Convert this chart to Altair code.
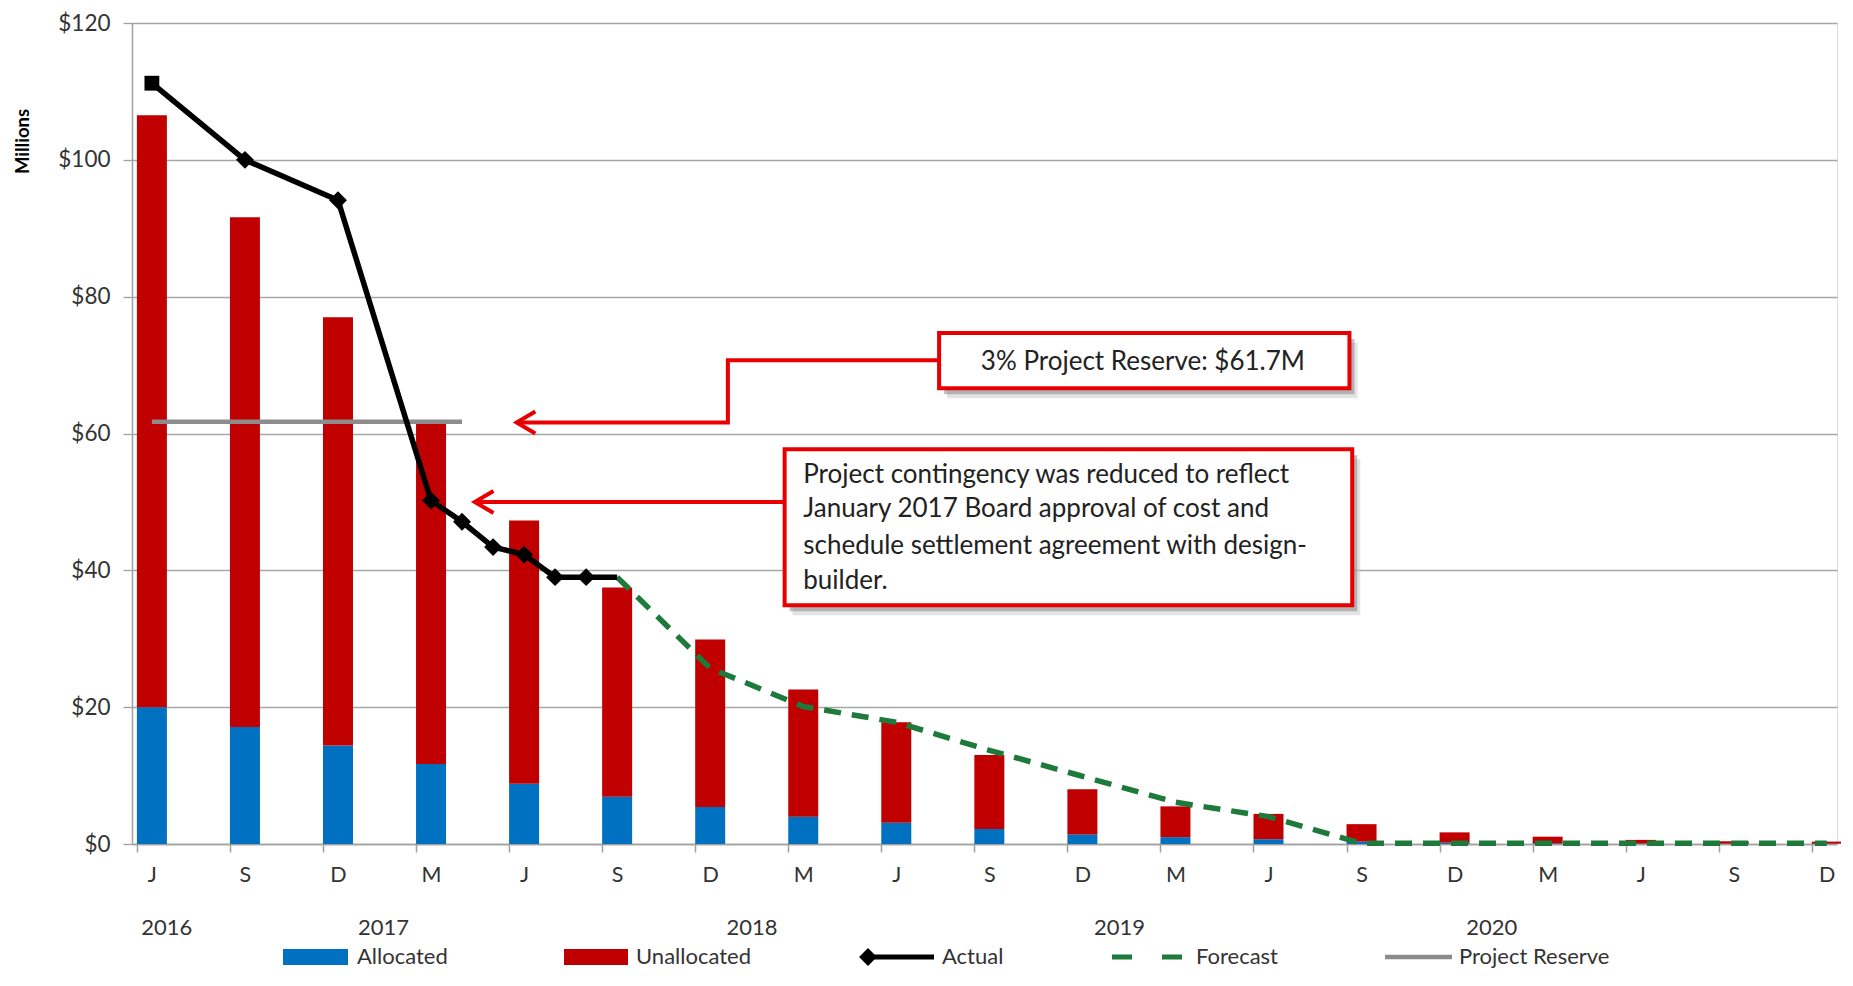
import altair as alt
import pandas as pd

# ---------------- data ----------------
quarter_labels = ["J", "S", "D", "M", "J", "S", "D", "M", "J", "S",
                  "D", "M", "J", "S", "D", "M", "J", "S", "D"]
quarter_index = list(range(len(quarter_labels)))

allocated = [20.0, 17.1, 14.4, 11.7, 8.8, 6.9, 5.4, 4.0, 3.1, 2.2,
             1.4, 1.0, 0.7, 0.35, 0.2, 0.1, 0.08, 0.05, 0.05]
unallocated = [86.5, 74.5, 62.6, 50.0, 38.5, 30.6, 24.5, 18.6, 14.7, 10.8,
               6.6, 4.5, 3.7, 2.55, 1.5, 0.97, 0.52, 0.35, 0.3]

actual_q = [0, 1, 2, 3, 3.333, 3.667, 4, 4.333, 4.667, 5]
actual_v = [111.2, 100.0, 94.1, 50.2, 47.1, 43.4, 42.3, 39.0, 39.0, 39.0]

forecast_q = [5, 6, 7, 8, 9, 10, 11, 12, 13, 14, 15, 16, 17, 18]
forecast_v = [39.0, 25.7, 20.1, 17.8, 13.7, 9.9, 6.1, 4.0, 0.1, 0.1, 0.1, 0.1, 0.1, 0.1]

reserve_q = [0, 3.333]
reserve_v = [61.7, 61.7]

year_labels = ["2016", "2017", "2018", "2019", "2020"]
year_q = [0.16, 2.49, 6.45, 10.4, 14.4]

y_ticks = [0, 20, 40, 60, 80, 100, 120]

# annotation geometry in data units (quarter index, $ millions)
box1 = {"x": 8.46, "x2": 12.87, "y": 66.6, "y2": 74.7}
box1_text = "3% Project Reserve: $61.7M"
box1_text_pos = (10.65, 70.5)
conn1_q = [8.46, 6.19, 6.19, 3.92]
conn1_v = [70.7, 70.7, 61.6, 61.6]

box2 = {"x": 6.8, "x2": 12.9, "y": 34.9, "y2": 57.7}
box2_lines = ["Project contingency was  reduced to reflect",
              "January 2017 Board approval of cost and",
              "schedule settlement agreement with design-",
              "builder."]
box2_text_q = 7.0
box2_text_v = [54.0, 48.9, 43.6, 38.5]
conn2_q = [6.8, 3.47]
conn2_v = [50.0, 50.0]

legend_labels = ["Allocated", "Unallocated", "Actual", "Forecast", "Project Reserve"]

# ---------------- styling ----------------
BLUE = "#0070C0"
RED = "#C00000"
CALLOUT = "#E80000"
GREEN = "#1D7A3B"
GRAY = "#8C8C8C"
TEXT = "#333333"
FONT = "Lato"

W, H = 1705, 821
xscale = alt.Scale(domain=[-0.160, 18.056], nice=False, zero=False)
yscale = alt.Scale(domain=[0, 120], nice=False)

label_expr = "[" + ",".join("'%s'" % s for s in quarter_labels) + "][datum.value]"

xaxis = alt.Axis(values=quarter_index, labelExpr=label_expr, title=None, grid=False,
                 tickSize=8, tickOffset=-15, labelOffset=15, labelPadding=12,
                 labelFontSize=21.5, labelColor=TEXT, labelFont=FONT,
                 domainColor="#a0a0a0", domainWidth=1.5, tickColor="#a0a0a0", tickWidth=1.5)
yaxis = alt.Axis(values=y_ticks, labelExpr="'$' + datum.value", title="Millions",
                 grid=True, gridColor="#a6a6a6", gridWidth=1.3,
                 tickSize=9, tickColor="#a0a0a0", tickWidth=1.3,
                 domainColor="#a0a0a0", domainWidth=1.5,
                 labelFontSize=22.5, labelColor=TEXT, labelFont=FONT, labelPadding=13,
                 titleFontSize=18.5, titleFontWeight="bold", titleColor="#000000", titleFont=FONT,
                 titleX=-110, titleY=118, titleAngle=-90, titleBaseline="middle", titleAlign="center")

# ---------------- bars ----------------
n = len(quarter_index)
df_bars = pd.DataFrame({
    "q": quarter_index * 2,
    "series": ["Allocated"] * n + ["Unallocated"] * n,
    "value": allocated + unallocated,
    "ord": [0] * n + [1] * n,
})
bars = alt.Chart(df_bars).mark_bar(size=30).encode(
    x=alt.X("q:Q", scale=xscale, axis=xaxis),
    y=alt.Y("value:Q", stack="zero", scale=yscale, axis=yaxis),
    color=alt.Color("series:N", scale=alt.Scale(domain=["Allocated", "Unallocated"], range=[BLUE, RED]), legend=None),
    order=alt.Order("ord:Q"),
)

# ---------------- lines ----------------
df_res = pd.DataFrame({"q": reserve_q, "v": reserve_v})
reserve = alt.Chart(df_res).mark_line(color=GRAY, strokeWidth=4.5).encode(
    x=alt.X("q:Q", scale=xscale), y=alt.Y("v:Q", scale=yscale))

df_fc = pd.DataFrame({"q": forecast_q, "v": forecast_v})
forecast = alt.Chart(df_fc).mark_line(color=GREEN, strokeWidth=5.5, strokeDash=[17, 11]).encode(
    x=alt.X("q:Q", scale=xscale), y=alt.Y("v:Q", scale=yscale))

df_act = pd.DataFrame({"q": actual_q, "v": actual_v, "i": list(range(len(actual_q)))})
act_base = alt.Chart(df_act).encode(x=alt.X("q:Q", scale=xscale), y=alt.Y("v:Q", scale=yscale))
actual_line = act_base.mark_line(color="#000000", strokeWidth=5.5)
actual_diamonds = act_base.transform_filter(
    (alt.datum.i > 0) & (alt.datum.i < len(actual_q) - 1)
).mark_point(shape="diamond", filled=True, color="#000000", size=320, opacity=1)
actual_square = act_base.transform_filter(alt.datum.i == 0).mark_point(
    shape="square", filled=True, color="#000000", size=220, opacity=1)

# ---------------- callouts ----------------
def box_layers(b):
    d = pd.DataFrame([b])
    base = alt.Chart(d).encode(
        x=alt.X("x:Q", scale=xscale), x2="x2:Q",
        y=alt.Y("y:Q", scale=yscale), y2="y2:Q")
    sh2 = base.mark_rect(color="#c8c8c8", opacity=0.5, xOffset=8, yOffset=10, x2Offset=8, y2Offset=10)
    sh1 = base.mark_rect(color="#8a8a8a", opacity=0.55, xOffset=5, yOffset=6, x2Offset=5, y2Offset=6)
    box = base.mark_rect(fill="#ffffff", stroke=CALLOUT, strokeWidth=4)
    return [sh2, sh1, box]

df_c1 = pd.DataFrame({"q": conn1_q, "v": conn1_v, "o": list(range(len(conn1_q)))})
conn1 = alt.Chart(df_c1).mark_line(color=CALLOUT, strokeWidth=4, strokeJoin="miter").encode(
    x=alt.X("q:Q", scale=xscale), y=alt.Y("v:Q", scale=yscale), order="o:Q")
df_c2 = pd.DataFrame({"q": conn2_q, "v": conn2_v, "o": list(range(len(conn2_q)))})
conn2 = alt.Chart(df_c2).mark_line(color=CALLOUT, strokeWidth=4).encode(
    x=alt.X("q:Q", scale=xscale), y=alt.Y("v:Q", scale=yscale), order="o:Q")

df_tips = pd.DataFrame({"q": [conn1_q[-1], conn2_q[-1]], "v": [conn1_v[-1], conn2_v[-1]]})
tips = alt.Chart(df_tips).mark_point(
    shape="M1.7,-1L0,0L1.7,1", filled=False, color=CALLOUT, strokeWidth=4, size=484, opacity=1
).encode(x=alt.X("q:Q", scale=xscale), y=alt.Y("v:Q", scale=yscale))

df_t1 = pd.DataFrame({"q": [box1_text_pos[0]], "v": [box1_text_pos[1]], "t": [box1_text]})
text1 = alt.Chart(df_t1).mark_text(fontSize=26, font=FONT, color="#222222", align="center", baseline="middle").encode(
    x=alt.X("q:Q", scale=xscale), y=alt.Y("v:Q", scale=yscale), text="t:N")

df_t2 = pd.DataFrame({"q": [box2_text_q] * len(box2_lines), "v": box2_text_v, "t": box2_lines})
text2 = alt.Chart(df_t2).mark_text(fontSize=26, font=FONT, color="#222222", align="left", baseline="middle").encode(
    x=alt.X("q:Q", scale=xscale), y=alt.Y("v:Q", scale=yscale), text="t:N")

# ---------------- year labels ----------------
df_years = pd.DataFrame({"q": year_q, "t": year_labels})
years = alt.Chart(df_years).mark_text(fontSize=22, font=FONT, color=TEXT, baseline="middle", align="center").encode(
    x=alt.X("q:Q", scale=xscale), y=alt.value(H + 84), text="t:N")

# ---------------- legend (built by hand) ----------------
one = alt.Data(values=[{"k": 1}])
LY = H + 113
leg = []
leg.append(alt.Chart(one).mark_rect(color=BLUE).encode(
    x=alt.value(151), x2=alt.value(216), y=alt.value(LY - 8), y2=alt.value(LY + 8)))
leg.append(alt.Chart(one).mark_rect(color=RED).encode(
    x=alt.value(432), x2=alt.value(496), y=alt.value(LY - 8), y2=alt.value(LY + 8)))
leg.append(alt.Chart(one).mark_rule(color="#000000", strokeWidth=5).encode(
    x=alt.value(730), x2=alt.value(802), y=alt.value(LY)))
leg.append(alt.Chart(one).mark_point(shape="diamond", filled=True, color="#000000", size=320, opacity=1).encode(
    x=alt.value(736), y=alt.value(LY)))
leg.append(alt.Chart(one).mark_rule(color=GREEN, strokeWidth=5, strokeDash=[20, 30]).encode(
    x=alt.value(980), x2=alt.value(1050), y=alt.value(LY)))
leg.append(alt.Chart(one).mark_rule(color=GRAY, strokeWidth=4.5).encode(
    x=alt.value(1253), x2=alt.value(1320), y=alt.value(LY)))
for label, tx in zip(legend_labels, [225, 504, 810, 1064, 1327]):
    leg.append(alt.Chart(one).mark_text(fontSize=22, font=FONT, color=TEXT, align="left", baseline="middle").encode(
        x=alt.value(tx), y=alt.value(LY), text=alt.value(label)))

layers = [bars, reserve, forecast, actual_line, actual_diamonds, actual_square]
layers += box_layers(box1) + box_layers(box2)
layers += [conn1, conn2, tips, text1, text2, years] + leg

chart = alt.layer(*layers).resolve_scale(color="independent").properties(
    width=W, height=H,
    padding={"left": 124, "top": 15, "right": 4, "bottom": 126},
    autosize=alt.AutoSizeParams(type="none"),
).configure_view(stroke=None).configure(font=FONT, background="#ffffff")

chart.save("out.html", embed_options={"renderer": "svg", "actions": False})
